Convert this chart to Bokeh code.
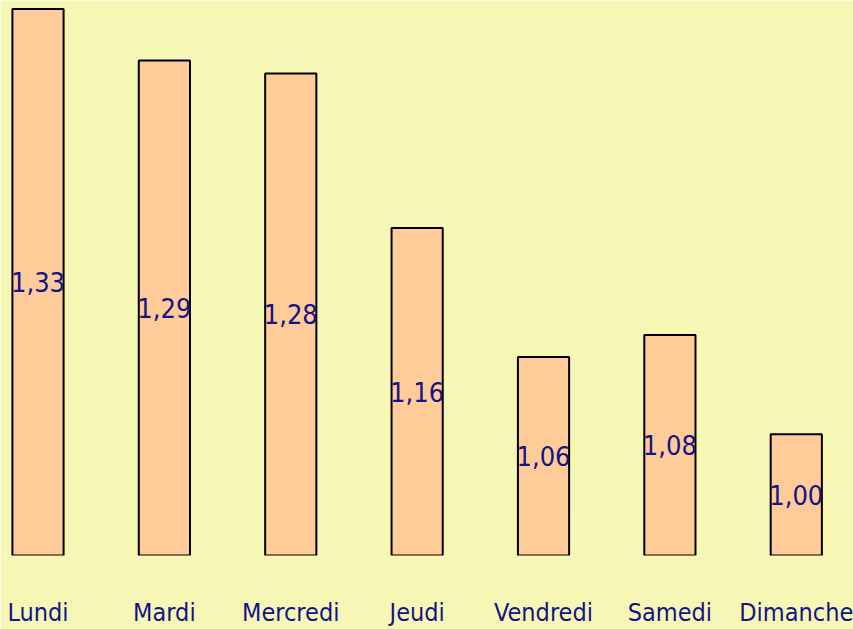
import numpy as np
from bokeh.plotting import figure
from bokeh.models import Range1d, FixedTicker, ColumnDataSource
from bokeh.core.properties import value
from bokeh.embed import file_html
from bokeh.resources import INLINE

days = ["Lundi", "Mardi", "Mercredi", "Jeudi", "Vendredi", "Samedi", "Dimanche"]
ratios = [1.33, 1.29, 1.28, 1.16, 1.06, 1.077, 1.00]
labels = ["1,33", "1,29", "1,28", "1,16", "1,06", "1,08", "1,00"]

BASE = 0.906
TOP = 1.3366
BG = "#F7F7B5"
FONT = "DejaVu Sans Condensed"
NAVY = "#141486"

x = np.arange(len(days))
src = ColumnDataSource(dict(
    x=x, top=ratios, lab=labels,
    mid=[(BASE + v) / 2 for v in ratios],
))

W, H = 853, 629
x_start = -37.5 / 126.38
x_end = x_start + W / 126.38

p = figure(width=W, height=H, output_backend="svg", toolbar_location=None,
           x_range=Range1d(x_start, x_end), y_range=Range1d(BASE, TOP),
           min_border=0, min_border_left=0, min_border_right=0, min_border_top=0,
           y_axis_location=None)
p.background_fill_color = BG
p.border_fill_color = BG
p.outline_line_color = None
p.xgrid.visible = False
p.ygrid.visible = False

p.vbar(x="x", top="top", bottom=BASE, width=0.405, source=src,
       fill_color="#FFCC99", line_color="black", line_width=2)
p.text(x="x", y="mid", text="lab", source=src, text_align="center",
       text_baseline="middle", text_color=NAVY, text_font=value(FONT),
       text_font_size="27px")

ax = p.xaxis[0]
ax.ticker = FixedTicker(ticks=list(x))
ax.major_label_overrides = {int(i): d for i, d in zip(x, days)}
ax.axis_line_color = None
ax.major_tick_line_color = None
ax.minor_tick_line_color = None
ax.major_label_text_font = FONT
ax.major_label_text_font_size = "25px"
ax.major_label_text_color = NAVY
ax.major_label_standoff = 36

html = file_html(p, INLINE)
html = html.replace("<body>", '<body style="margin:0;background:%s;overflow:hidden">' % BG, 1)
open("out.html", "w").write(html)
